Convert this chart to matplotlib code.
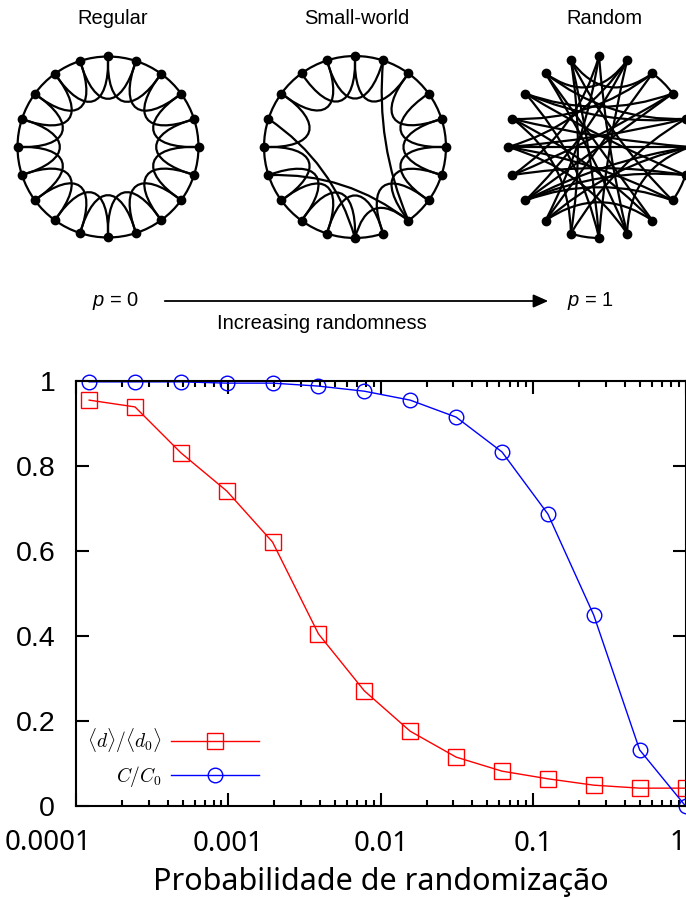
import numpy as np
import matplotlib
import matplotlib.pyplot as plt
from matplotlib.path import Path
from matplotlib.patches import PathPatch
from matplotlib.font_manager import FontProperties

plt.rcParams['mathtext.fontset'] = 'custom'
plt.rcParams['mathtext.rm'] = 'Liberation Sans'
plt.rcParams['mathtext.it'] = 'Liberation Sans:italic'

# ---- dados do gráfico ----
p_rand = [0.000122, 0.000244, 0.000488, 0.000977, 0.00195, 0.0039, 0.0078,
          0.0156, 0.03125, 0.0625, 0.125, 0.25, 0.5, 1.0]
d_ratio = [0.955, 0.939, 0.831, 0.741, 0.621, 0.405, 0.271,
           0.176, 0.115, 0.082, 0.064, 0.049, 0.042, 0.042]
c_ratio = [0.998, 0.998, 0.998, 0.995, 0.995, 0.988, 0.976,
           0.955, 0.915, 0.833, 0.687, 0.449, 0.132, 0.0]

x_ticks = [1e-4, 1e-3, 1e-2, 1e-1, 1]
x_tick_labels = ['0.0001', '0.001', '0.01', '0.1', '1']
y_ticks = [0, 0.2, 0.4, 0.6, 0.8, 1]
y_tick_labels = ['0', '0.2', '0.4', '0.6', '0.8', '1']

# ---- redes (20 nós) ----
N = 20
titulos = ['Regular', 'Small-world', 'Random']
aneis_regular = [(k, k + 1) for k in range(20)]
petalas_regular = [(k, k + 2) for k in range(20)]

aneis_sw = [(k, k + 1) for k in range(20) if k != 8]
petalas_sw = [(k, k + 2) for k in range(20) if k not in (14, 16, 1, 8)]
longas_sw = [(14, 8), (16, 10), (1, 8), (8, 10)]

aneis_rand = [(2, 3), (10, 11), (6, 7)]
longas_rand = [(0, 9), (0, 12), (1, 13), (1, 15), (2, 16), (3, 17), (3, 14),
               (4, 15), (4, 18), (5, 16), (5, 13), (6, 17), (7, 19), (8, 12),
               (8, 16), (9, 18), (9, 15), (10, 1), (11, 4), (12, 5), (13, 3),
               (14, 6), (14, 0), (15, 7), (16, 11), (17, 4), (17, 10), (18, 8),
               (19, 2), (19, 11), (12, 2), (13, 6), (15, 5), (18, 1), (9, 5),
               (10, 19), (7, 13)]

####################################################################################

fig = plt.figure(figsize=(6.86, 8.97), dpi=100)

# parte de cima: desenho em coordenadas de pixel
axt = fig.add_axes([0, 1 - 340 / 897, 1, 340 / 897])
axt.set_xlim(0, 686)
axt.set_ylim(340, 0)
axt.axis('off')

LW = 1.6

def no(cx, cy, r, k):
	a = np.pi / 2 - 2 * np.pi * k / N
	return np.array([cx + r * np.cos(a), cy - r * np.sin(a)])

def arco(cx, cy, r, i, j):
	p0, p2 = no(cx, cy, r, i), no(cx, cy, r, j)
	pc = no(cx, cy, r / np.cos(np.pi / N), i + 0.5)
	path = Path([p0, pc, p2], [Path.MOVETO, Path.CURVE3, Path.CURVE3])
	axt.add_patch(PathPatch(path, fc='none', ec='black', lw=LW))

def petala(cx, cy, r, i, j):
	p0, p3 = no(cx, cy, r, i), no(cx, cy, r, j)
	p1, p2 = no(cx, cy, 0.42 * r, i - 0.15), no(cx, cy, 0.42 * r, j + 0.15)
	path = Path([p0, p1, p2, p3], [Path.MOVETO, Path.CURVE4, Path.CURVE4, Path.CURVE4])
	axt.add_patch(PathPatch(path, fc='none', ec='black', lw=LW))

def corda(cx, cy, r, i, j):
	p0, p2 = no(cx, cy, r, i), no(cx, cy, r, j)
	m = (p0 + p2) / 2
	pc = m + 0.5 * (np.array([cx, cy]) - m)
	path = Path([p0, pc, p2], [Path.MOVETO, Path.CURVE3, Path.CURVE3])
	axt.add_patch(PathPatch(path, fc='none', ec='black', lw=LW))

def rede(cx, cy, r, aneis, petalas, longas):
	for i, j in aneis: arco(cx, cy, r, i, j)
	for i, j in petalas: petala(cx, cy, r, i, j)
	for i, j in longas: corda(cx, cy, r, i, j)
	pts = np.array([no(cx, cy, r, k) for k in range(N)])
	axt.plot(pts[:, 0], pts[:, 1], 'o', color='black', ms=6, zorder=5)

rede(108, 147, 90.5, aneis_regular, petalas_regular, [])
rede(355, 147, 91, aneis_sw, petalas_sw, longas_sw)
rede(599, 147, 91, aneis_rand, [], longas_rand)

for x, t in zip([113, 357, 604], titulos):
	axt.text(x, 19, t, ha='center', va='center', fontsize=14.5, family='Liberation Sans')

axt.text(116, 301, r'$p$ = 0', ha='center', va='center', fontsize=14.5, family='Liberation Sans')
axt.text(590, 301, r'$p$ = 1', ha='center', va='center', fontsize=14.5, family='Liberation Sans')
axt.annotate('', xy=(551, 301), xytext=(162, 301),
	arrowprops=dict(arrowstyle='-|>,head_length=0.9,head_width=0.4', color='black', lw=1.3))
axt.text(322, 323, 'Increasing randomness', ha='center', va='center', fontsize=14.5,
	family='Liberation Sans')

####################################################################################

ax = fig.add_axes([76 / 686, 1 - 806 / 897, (685.5 - 76) / 686, (806 - 381) / 897])
ax.set_xscale('log')

ax.plot(p_rand, d_ratio, color='red', lw=1, marker='s', ms=11, mfc='none', mec='red',
	mew=1, clip_on=False, label=r'$\langle d\rangle/\langle d_0\rangle$')
ax.plot(p_rand, c_ratio, color='blue', lw=1, marker='o', ms=10.5, mfc='none', mec='blue',
	mew=1, clip_on=False, label=r'$C/C_0$')

ax.set_xlim(1e-4, 1)
ax.set_ylim(0, 1)
ax.set_xticks(x_ticks)
ax.set_xticklabels([''] + x_tick_labels[1:-1] + [''])
ax.set_yticks(y_ticks)
ax.set_yticklabels(y_tick_labels, fontsize=20.5, family='Liberation Sans')
ax.xaxis.set_minor_locator(matplotlib.ticker.LogLocator(base=10, subs=np.arange(2, 10)))
ax.xaxis.set_minor_formatter(matplotlib.ticker.NullFormatter())
for lbl in ax.get_xticklabels():
	lbl.set_fontsize(20)
	lbl.set_family('Noto Sans')

# rótulos das pontas, deslocados para caber na figura
ax.annotate(x_tick_labels[0], xy=(x_ticks[0], 0), xycoords=('data', 'axes fraction'),
	xytext=(16, -23), textcoords='offset pixels', ha='right', va='top', fontsize=20,
	family='Noto Sans', annotation_clip=False)
ax.annotate(x_tick_labels[-1], xy=(x_ticks[-1], 0), xycoords=('data', 'axes fraction'),
	xytext=(0, -23), textcoords='offset pixels', ha='right', va='top', fontsize=20,
	family='Noto Sans', annotation_clip=False)

ax.tick_params(which='both', direction='in', top=True, right=True, width=1.5)
ax.tick_params(which='major', length=9.5)
ax.tick_params(which='minor', length=4.5)
ax.tick_params(axis='y', pad=15)
ax.tick_params(axis='x', pad=17)
for s in ax.spines.values():
	s.set_linewidth(1.5)

ax.set_xlabel('Probabilidade de randomização', fontsize=22, family='Noto Sans', labelpad=7)

ax.legend(loc='lower left', bbox_to_anchor=(-0.011, 0.0), frameon=False, markerfirst=False,
	numpoints=1, handlelength=4.5, handletextpad=0.5, labelspacing=0.45,
	prop=FontProperties(size=14, math_fontfamily='cm'))

fig.savefig('out.png', dpi=100)
